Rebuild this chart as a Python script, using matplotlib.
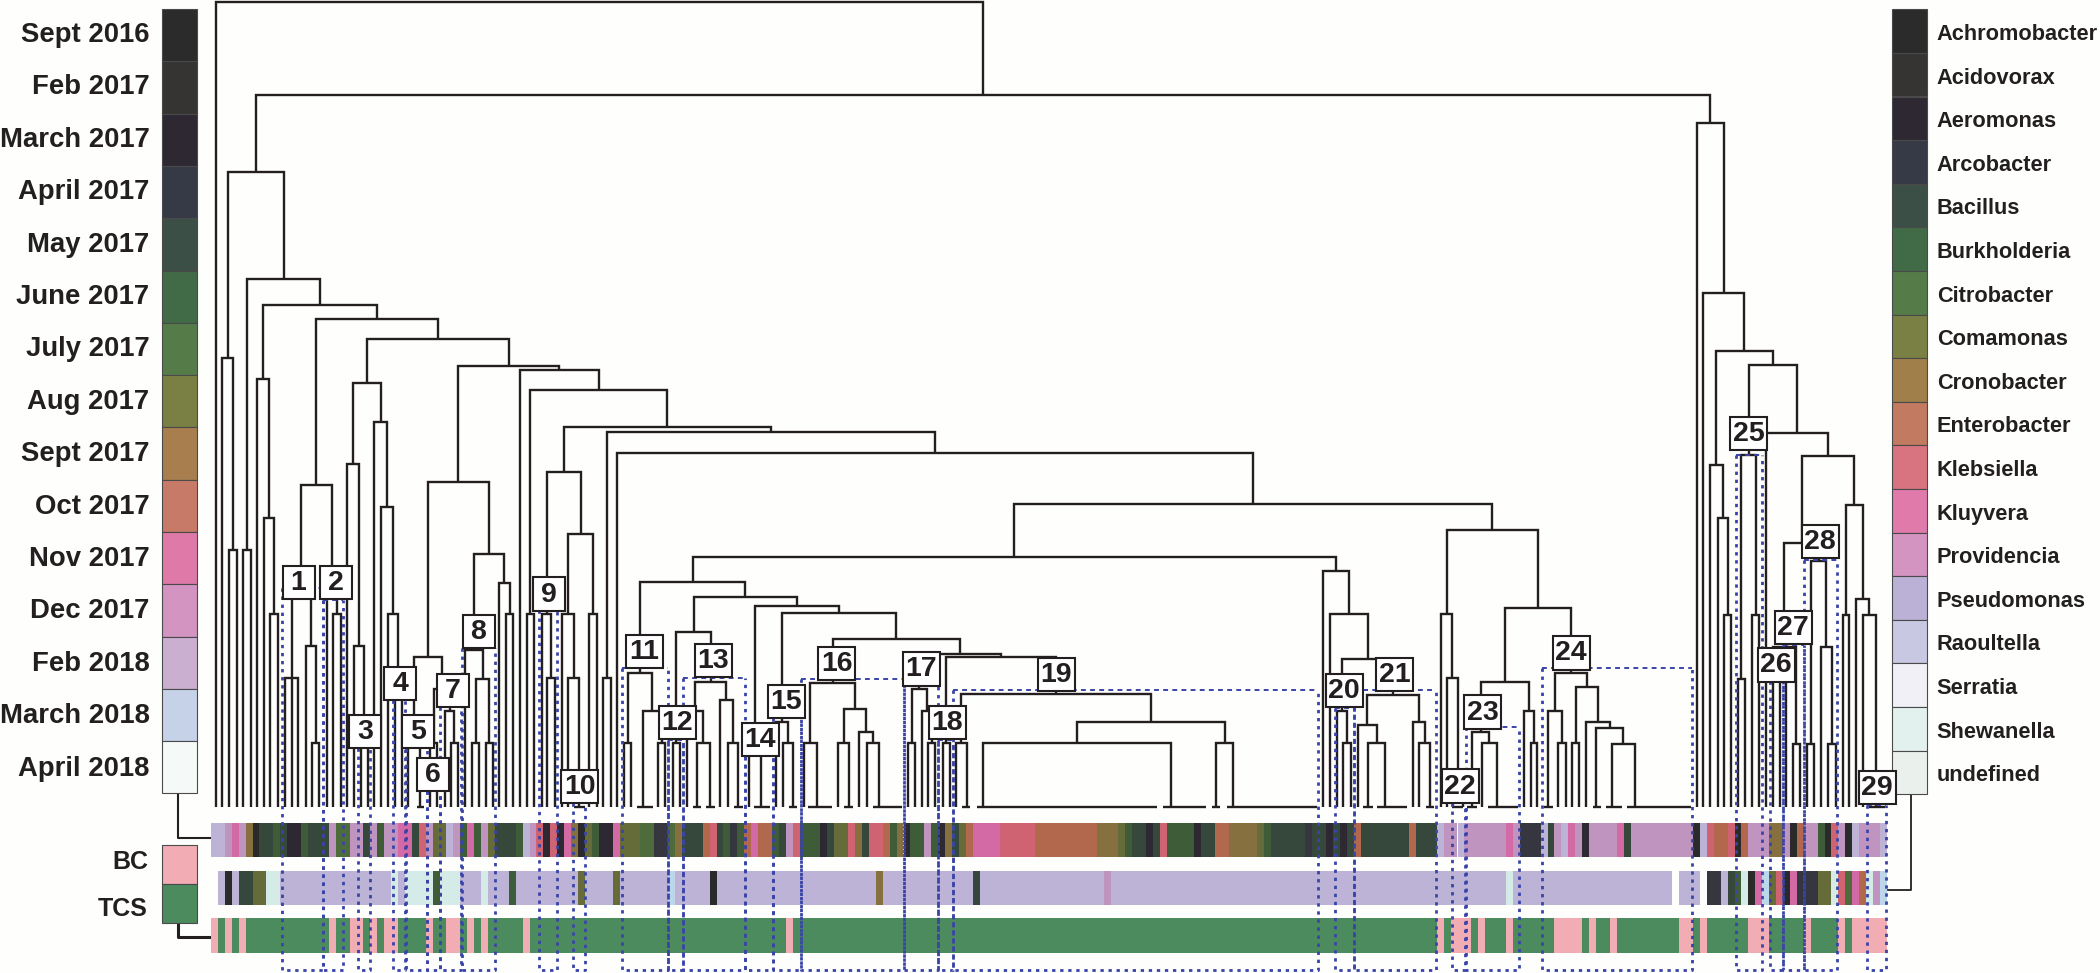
import matplotlib
matplotlib.use("Agg")
import matplotlib.pyplot as plt
from matplotlib.patches import Rectangle
from matplotlib.collections import LineCollection

plt.rcParams['font.family'] = ['Liberation Sans', 'DejaVu Sans']

dates = ['Sept 2016', 'Feb 2017', 'March 2017', 'April 2017', 'May 2017', 'June 2017', 'July 2017',
         'Aug 2017', 'Sept 2017', 'Oct 2017', 'Nov 2017', 'Dec 2017', 'Feb 2018', 'March 2018', 'April 2018']
date_colors = ['#2b2b2b', '#353433', '#2e2832', '#363a47', '#3c4f47', '#416b46', '#557c48', '#7a8044',
               '#a87e4e', '#c77a68', '#df7aa8', '#d394c1', '#cbafd0', '#c6d2e8', '#f5f9f8']
genera = ['Achromobacter', 'Acidovorax', 'Aeromonas', 'Arcobacter', 'Bacillus', 'Burkholderia', 'Citrobacter',
          'Comamonas', 'Cronobacter', 'Enterobacter', 'Klebsiella', 'Kluyvera', 'Providencia', 'Pseudomonas',
          'Raoultella', 'Serratia', 'Shewanella', 'undefined']
genus_colors = ['#2b2b2b', '#353433', '#2e2832', '#363a47', '#3c4f47', '#416b46', '#557c48', '#7a8044',
                '#a07f4a', '#c27a60', '#d7747f', '#df7aab', '#d394c1', '#bbb1d6', '#c9c8e3', '#f0f0f6',
                '#e2f1ee', '#eaf1ec']
sources = ['BC', 'TCS']
source_colors = ['#f2adb4', '#4b8b5e']

# sample colours in the three annotation strips
strip = {'Ach': '#2a2a2a', 'Aer': '#2e2833', 'Arc': '#35363f', 'Bac': '#36483c', 'Bur': '#3f5c39', 'Cit': '#4d6b3b',
         'Com': '#666b3a', 'Cro': '#87703f', 'Ent': '#b2684c', 'Kle': '#cf6372', 'Klu': '#d36aa6', 'Pro': '#bf94bf',
         'Pse': '#bcb3d7', 'Blu': '#bcd7ea', 'She': '#d5ebe7', 'BC': '#f2adb4', 'TCS': '#4b8b5e', 'gap': '#fefefc'}

row1 = [('Pse',2),('Pro',1),('Klu',1),('Pro',1),('Cro',1),('Ach',1),('Bac',2),('Bur',1),('Bac',1),('Aer',2),('Bur',1),
        ('Bac',3),('Pro',1),('Cit',2),('Pro',2),('Bac',1),('Pro',1),('Bur',1),('Pro',2),('Klu',2),('Bac',1),('Kle',1),
        ('Pro',1),('Com',2),('Pse',1),('Pro',1),('Bur',1),('Klu',1),('Bur',1),('Pro',1),('Com',1),('Bac',3),('Bur',1),
        ('Pse',1),('Pro',1),('Kle',1),('Aer',1),('Kle',1),('Aer',1),('Klu',1),('Cro',1),('Ach',1),('Com',1),('Bur',1),
        ('Aer',2),('Klu',1),('Com',3),('Cit',2),('Arc',2),('Cit',1),('Cro',1),('Bac',3),('Ent',1),('Kle',1),('Bac',1),
        ('Bur',1),('Arc',1),('Bur',1),('Ent',1),('Klu',1),('Ent',2),('Bur',1),('Bac',1),('Pro',1),('Kle',1),('Bur',3),
        ('Aer',1),('Bac',1),('Com',2),('Kle',1),('Cro',1),('Bac',1),('Kle',2),('Ent',1),('Bur',1),('Cro',1),('Aer',1),
        ('Bur',2),('Pro',1),('Bur',1),('Aer',1),('Cro',1),('Bac',1),('Com',1),('Ent',1),('Klu',4),('Kle',5),('Ent',9),
        ('Cro',3),('Com',1),('Bur',1),('Bac',2),('Aer',1),('Bac',1),('Kle',1),('Bur',4),('Aer',1),('Bac',2),('Ent',2),
        ('Cro',4),('Com',1),('Bur',1),('Bac',5),('Arc',1),('Bac',2),('Aer',1),('Bac',1),('Aer',1),('Bac',1),('Ent',1),
        ('Bac',7),('Ent',1),('Bac',3),('Pse',1),('Pro',2),('Pse',1),('Pro',6),('Klu',1),('Pro',1),('Arc',3),('Pse',1),
        ('Bac',1),('Pro',1),('Pse',1),('Klu',1),('Pro',1),('Aer',1),('Pro',4),('Klu',1),('Bac',1),('Pro',9),('Ach',1),
        ('Pse',1),('Kle',1),('Ent',2),('Kle',1),('Ach',1),('Ent',1),('Pro',3),('Cro',2),('Pro',1),('Ach',1),('Ent',1),
        ('Pro',2),('Bur',1),('Ach',1),('Kle',1),('Pro',1),('Ach',1),('Pse',1),('Pro',3),('Pse',1)]
row2 = [('gap',1),('Pse',1),('Ach',1),('Pse',1),('Bac',2),('Com',2),('She',2),('Pse',16),('She',1),('Pse',1),('She',4),
        ('Bur',1),('She',3),('Pse',3),('She',1),('Pse',3),('Bur',1),('Pse',9),('Com',1),('Pse',4),('Com',1),('Pse',7),
        ('Blu',1),('Pse',5),('Ach',1),('Pse',23),('Cro',1),('Pse',13),('Bac',1),('Pse',18),('Pro',1),('Pse',57),('She',1),
        ('Pse',23),('gap',1),('Pse',3),('gap',1),('Arc',2),('Pse',1),('Bac',1),('Bur',1),('She',1),('Ach',1),('Klu',1),
        ('Blu',1),('Com',1),('Kle',1),('Ach',1),('Klu',1),('Arc',3),('Com',2),('She',1),('Kle',1),('Cit',1),('Klu',1),
        ('Ent',1),('She',1),('Pro',1),('Blu',1)]
# positions of the BC samples in the source strip; all the others are TCS
n_samples = 242
bc_samples = [0, 2, 4, 17, 20, 21, 23, 25, 26, 31, 34, 35, 37, 39, 45, 83, 177, 179, 180, 181, 183, 187, 194, 195, 196, 197,
              199, 202, 212, 213, 215, 222, 223, 224, 230, 235, 237, 238, 239, 240, 241]

# dendrogram: (merge level, left, right); a plain number is a leaf position
t1 = (590, (678, 285, 298), (646, 305.7, (743, 312, 319)))
t2 = (590, 326.7, (614, 333, 340.7))
d_a = (383, (464, 347, (646, 354, (725, 360.7, 367.5))), (422, 374, (507, 381, (614, 388, (690, 394.7, 401.6)))))
g = (482, (657, (735, 408, 420), (689, (743, 430, 437.3), (711, 445, (743, 450.7, 457.7)))),
     (554, (650, 465, (679, (743, 472.3, 479.3), (743, 486, 492.7))), (583, 499.3, (614, 506, 513.3))))
j = (471.7, (614, 542.3, (678.3, 547.3, 555)), (534.3, (614.3, 562.3, (678.3, 568.3, 579.3)), (614.3, 589.3, 596.7)))
u = (683.3, (743, 804, 816.7), (709.3, (743, 838.3, 849.3), (732.3, 859.3, (743, 866.7, 879.3))))
w = (694.3, (743, 956, 966.7), (721.7, (743, 983.3, 1171), (743, 1215.7, 1233.3)))
v = (654, (689.3, (743, 908.3, 915), (710.7, 921.7, (743, 928.3, 935))), (656.7, (743, 942.7, 950), w))
r = (672.7, (743, 624, 631), (710.7, 643.3, (743, 658.3, 665)))
s = (597.3, (632.3, (743, 672.7, 680), (681.7, (710.7, 686.7, (743, 696.7, 710)), (700, 720, (743, 727.7, 737.7)))),
     (606, (740, 749, 761), (612.7, (721.7, 776.3, (743, 783.3, 793.3)), (639, u, v))))
q = (570.7, 1322.7, (614.3, 1330, (659.3, (711, 1336.7, (743, 1343.3, 1350.7)),
     (695, (725, 1358.3, (743, 1368.3, 1385)), (721.7, 1413.3, (743, 1419.3, 1430))))))
rr = (530, (614.3, 1440.7, (678.3, 1446.7, (790, 1453, 1463))),
      (607.7, (681.7, (732.3, 1472.3, (743, 1481.7, 1496.7)), (710.7, 1524, (743, 1530.7, 1537.3))),
       (673.3, (711, 1547.7, (743, 1558.3, 1565.7)),
        (686.7, (743, 1571.7, 1579.3), (721.7, 1586, (727.8, 1595.7, (743.6, 1611.7, 1635)))))))
m = (504, (557, (582, r, s), q), rr)
k = (431.7, (678, 602.7, 610.7), (452.7, 616.7, m))
i = (390, (614, 527, 533.5), (426.7, j, k))
d_b = (366, g, (370, 520, i))
d2 = (339, d_a, d_b)
left_arm = (172, (358, 222, (550, 229, 237)),
            (279, (550, 243, 251), (305, (379, 257, (518, 264, (614, 270, 278))),
                                    (319, (485, t1, t2), d2))))
right_arm = (122.7, 1696.7, (293.3, 1703.3, (350.7, (465, 1710, (518, 1717.7, (614.5, 1724, 1731))),
             (365, (455, (678.5, 1737.8, 1745), (614.5, 1752, 1759.3)),
              (433.3, 1765.7, (456, (542.5, (646.7, 1772.7, (743.6, 1792.5, 1800)),
                                     (561, (743.6, 1807, 1814.3), (646.7, 1821.3, (743.6, 1827.5, 1835.5)))),
                               (505.3, (614.5, 1842.5, 1849), (599, 1856, (614.5, 1862.5, 1875.7)))))))))
tree = (2, 216, (95, left_arm, right_arm))
leaf_level = 806.5
extra_leaves = [(291.7, 678), (1780, 665), (1785.7, 665)]
zero_links = [(416.7, 424), (636.7, 653.3), (574, 585), (692.7, 700.7), (706, 715), (734, 742.7), (754, 770), (789, 796.7),
              (808.3, 832.3), (844.3, 853.3), (872.7, 901.7), (961.7, 970), (976.7, 1156.7), (1163.3, 1206), (1211.7, 1220),
              (1226.7, 1316.7), (1363.3, 1372.7), (1377.3, 1406.7), (1426, 1434), (1451.7, 1463.3), (1466.7, 1476.7),
              (1488.3, 1518.3), (1544.3, 1552.7), (1592.7, 1601), (1605.7, 1621.7), (1626.7, 1690.7), (1869.3, 1885)]

# clusters: left, right, top
clusters = [(282.3, 323.3, 588), (322.7, 342.7, 600), (358.3, 370, 748), (393.3, 405, 700), (405.7, 426.7, 748),
            (426.7, 440, 791), (440, 461, 707), (461.7, 495, 648), (539, 556.7, 610), (573.3, 585, 803),
            (621.7, 668.3, 668), (668.3, 682.7, 740), (683.3, 745, 678), (745, 773.3, 756), (773.3, 800.7, 718),
            (800.7, 904.3, 679), (904.3, 937.7, 680), (938.3, 953.3, 740), (953.3, 1318.3, 690), (1335, 1354.3, 708),
            (1354.3, 1436, 690), (1451.7, 1465, 803), (1465.7, 1519.3, 727), (1542.3, 1692.3, 668), (1735.7, 1761.7, 455),
            (1770, 1783.3, 681), (1783.3, 1804, 645), (1804, 1837.3, 560), (1866.7, 1886, 805)]
label_x = [298.5, 335.8, 364.8, 400.2, 418.3, 433.3, 452.5, 478.5, 549.2, 579.5, 644.2, 677.3, 713, 760.3, 786.3,
           836.7, 921.3, 947, 1056, 1344.3, 1394.5, 1460, 1482.5, 1571.3, 1748.8, 1776, 1793.3, 1820.2, 1877.3]
label_y = [582.5, 582.5, 731.3, 683.3, 731.3, 774.3, 690.7, 631.8, 594, 786.7, 651.7, 722.7, 660.7, 739.2, 701.2,
           663.3, 669, 722.7, 674.3, 690.7, 674.3, 786, 712, 653, 433.7, 665, 627.5, 541.5, 787.5]

DARK = '#231f20'
DASH = '#3a44a8'
fig = plt.figure(figsize=(21, 9.73), dpi=100, facecolor='#fefefc')
ax = fig.add_axes([0, 0, 1, 1])
ax.set_xlim(0, 2100)
ax.set_ylim(973, 0)
ax.axis('off')


def color_column(x0, x1, y0, cell, colors, edge):
    for n, c in enumerate(colors):
        ax.add_patch(Rectangle((x0, y0 + n * cell), x1 - x0, cell, fc=c, ec=edge, lw=0.8, zorder=2))


color_column(162, 196.7, 9, 52.3, date_colors, '#4a4a4a')
for n, t in enumerate(dates):
    ax.text(149.5, 35 + 52.4 * n, t, ha='right', va='center', fontsize=19.8, fontweight='bold', color=DARK)
color_column(1892.3, 1927.3, 9.3, 43.6, genus_colors, '#4a4a4a')
for n, t in enumerate(genera):
    ax.text(1936.7, 34.5 + 43.6 * n, t, ha='left', va='center', fontsize=15.7, fontweight='bold', color=DARK)
color_column(161.7, 197.3, 845, 39.2, source_colors, '#4a4a4a')
for t, y in zip(sources, [862, 909]):
    ax.text(148, y, t, ha='right', va='center', fontsize=18, fontweight='bold', color=DARK)

# connectors
ax.plot([178.3, 178.3, 211], [793.5, 837.7, 837.7], color=DARK, lw=1.5, zorder=1)
ax.plot([178.3, 178.3, 211], [923.4, 936.7, 936.7], color=DARK, lw=2.2, zorder=1)
ax.plot([1911, 1911, 1888], [794, 889.8, 889.8], color=DARK, lw=1.3, zorder=1)

# annotation strips
CELL = 6.925
X0 = 211
for runs, y0, y1 in [(row1, 822.7, 856.7), (row2, 870.7, 905)]:
    pos = 0
    for key, cnt in runs:
        ax.barh((y0 + y1) / 2, cnt * CELL, left=X0 + pos * CELL, height=y1 - y0, color=strip[key], lw=0, zorder=1)
        pos += cnt
ax.barh(935.5, n_samples * CELL, left=X0, height=34.4, color=strip['TCS'], lw=0, zorder=1)
for idx in bc_samples:
    ax.barh(935.5, CELL, left=X0 + idx * CELL, height=34.4, color=strip['BC'], lw=0, zorder=1.1)

# dendrogram
segs = []


def walk(node):
    if not isinstance(node, tuple):
        return node, leaf_level
    h, a, b = node
    xa, ya = walk(a)
    xb, yb = walk(b)
    segs.append([(xa, ya), (xa, h), (xb, h), (xb, yb)])
    return (xa + xb) / 2, h


walk(tree)
for x, top in extra_leaves:
    segs.append([(x, top), (x, leaf_level)])
for a, b in zero_links:
    segs.append([(a, leaf_level), (b, leaf_level)])
ax.add_collection(LineCollection(segs, colors=DARK, linewidths=1.7, capstyle='butt', joinstyle='miter', zorder=3))

# cluster outlines
bottom = 970
for a, b, top in clusters:
    ax.plot([a, a, b, b], [top, bottom, bottom, top], color=DASH, lw=2.0, ls=(0, (1.2, 1.7)), zorder=4)
    ax.plot([a, b], [top, top], color=DASH, lw=1.4, ls=(0, (2.5, 2.2)), zorder=4)

# numbered labels
for n, (x, y) in enumerate(zip(label_x, label_y), start=1):
    w_ = 32 if n < 10 else 37
    ax.add_patch(Rectangle((x - w_ / 2, y - 16.7), w_, 33.4, fc='white', ec=DARK, lw=1.5, zorder=5))
    ax.text(x, y + 0.5, str(n), ha='center', va='center', fontsize=20.5, fontweight='bold', color=DARK, zorder=6)

fig.savefig('out.png', dpi=100, facecolor=fig.get_facecolor())
